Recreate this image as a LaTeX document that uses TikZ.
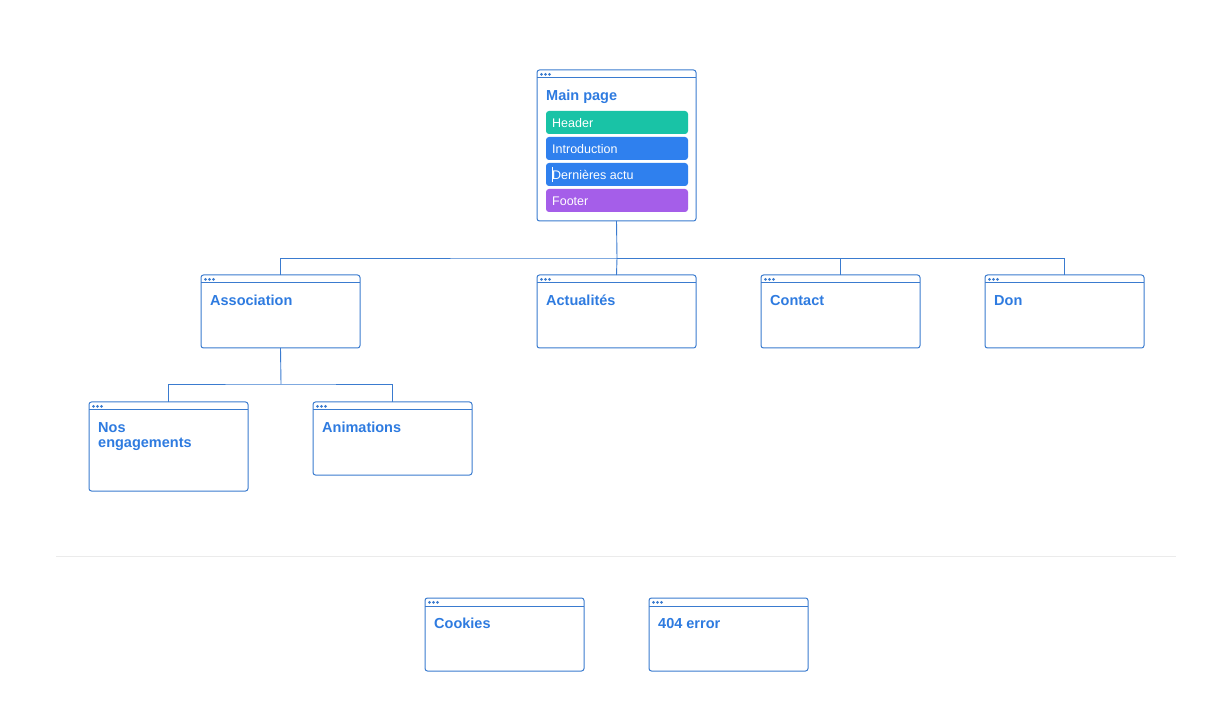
\documentclass[tikz,border=0pt]{standalone}
\usepackage{fontspec}
\setmainfont{Liberation Sans}
\definecolor{bl}{HTML}{3A7BCF}
\definecolor{tt}{HTML}{2E7BE0}
\definecolor{teal}{HTML}{19C3A6}
\definecolor{ib}{HTML}{2F80EE}
\definecolor{pu}{HTML}{A55EE9}
\definecolor{sep}{HTML}{EBEBEB}
\begin{document}
\begin{tikzpicture}[x=1pt,y=-1pt,
  win/.style={draw=bl,line width=1pt,rounded corners=2.5pt,fill=white},
  ttl/.style={anchor=north west,inner sep=0pt,text=tt,font=\fontsize{14.5}{16}\selectfont\bfseries,align=left},
  item/.style={fill=#1,rounded corners=3pt,draw=none},
  itxt/.style={anchor=west,inner sep=0pt,text=white,font=\fontsize{12.5}{14}\selectfont},
  con/.style={draw=bl,line width=0.9pt}]
\useasboundingbox (0,0) rectangle (1221,708);
% window macro: x1,y1,x2,y2
\newcommand{\mywin}[6]{%
  \draw[win] (#1,#2) rectangle (#3,#4);
  \draw[bl,line width=1pt] (#1,#2+8) -- (#3,#2+8);
  \foreach \k in {0,1,2} \fill[bl] (#1+4.5+\k*4,#2+4.3) circle (1.5);
  \node[ttl] (#5t) at (#1+9,#2+18.5) {\rule{0pt}{11.5pt}#6};
  \coordinate (#5n) at ({(#1+#3)/2},#2);
  \coordinate (#5s) at ({(#1+#3)/2},#4);
}
\draw[sep,line width=1pt] (56,556) -- (1176,556);
% connectors
\coordinate (j1) at (617,258);
\coordinate (j2) at (281,384);
\mywin{537}{70}{696}{221}{main}{Main page}
\mywin{201}{275}{360}{348}{asso}{Association}
\mywin{537}{275}{696}{348}{actu}{Actualités}
\mywin{761}{275}{920}{348}{cont}{Contact}
\mywin{985}{275}{1144}{348}{don}{Don}
\mywin{89}{402}{248}{491}{nos}{Nos\\[-1pt]engagements}
\mywin{313}{402}{472}{475}{anim}{Animations}
\mywin{425}{598}{584}{671}{cook}{Cookies}
\mywin{649}{598}{808}{671}{err}{404 error}
\draw[con] (mains) -- (j1);
\draw[con] (asson) |- (j1) -| (donn);
\draw[con] (j1) -- (actun);
\draw[con] (j1) -| (contn);
\draw[con] (assos) -- (j2);
\draw[con] (nosn) |- (j2) -| (animn);
% items
\fill[item=teal] (546,111) rectangle (688,134);
\fill[item=ib] (546,137) rectangle (688,160);
\fill[item=ib] (546,163) rectangle (688,186);
\fill[item=pu] (546,189) rectangle (688,212);
\node[itxt] (i1) at (552,123.3) {Header};
\node[itxt] (i2) at (552,149.3) {Introduction};
\node[itxt] (i3) at (552,175.3) {Dernières actu};
\node[itxt] (i4) at (552,201.3) {Footer};
\draw[white,line width=0.6pt] (552.3,167) -- (552.3,182);
\end{tikzpicture}
\end{document}
